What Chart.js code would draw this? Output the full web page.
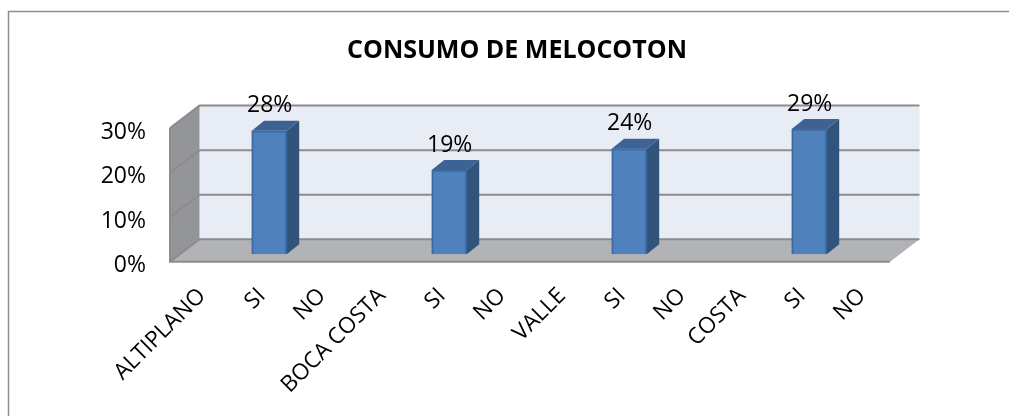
<!DOCTYPE html>
<html>
<head>
<meta charset="utf-8">
<style>
  html, body { margin: 0; padding: 0; background: #fff; }
  #wrap { width: 1009px; height: 416px; }
</style>
<script src="https://cdn.jsdelivr.net/npm/chart.js@4"></script>
</head>
<body>
<div id="wrap"><canvas id="chart" width="1009" height="416"></canvas></div>
<script>
const categories = ['ALTIPLANO', 'SI', 'NO', 'BOCA COSTA', 'SI', 'NO', 'VALLE', 'SI', 'NO', 'COSTA', 'SI', 'NO'];
const consumo = [null, 27.7, null, null, 18.9, null, null, 23.7, null, null, 28.1, null];
const consumoLabels = [null, '28%', null, null, '19%', null, null, '24%', null, null, '29%', null];
const yTicks = [0, 10, 20, 30];
const titleText = 'CONSUMO DE MELOCOTON';

const FONT = '"Open Sans", sans-serif';

// fake 3d box, depth of the walls and of the bars
const wallDx = 29.5, wallDy = 22.4;
const barShiftX = 9.2, barShiftY = 7.4;
const barDx = 12.5, barDy = 10;

function poly(ctx, pts, fill) {
    ctx.beginPath();
    pts.forEach((p, i) => i ? ctx.lineTo(p[0], p[1]) : ctx.moveTo(p[0], p[1]));
    ctx.closePath();
    ctx.fillStyle = fill;
    ctx.fill();
}

const box3d = {
    id: 'box3d',
    afterLayout(chart) {
        // title is centred a bit right of the padded width
        chart.titleBlock.left += 27;
        chart.titleBlock.right += 27;
    },
    beforeDraw(chart) {
        const ctx = chart.ctx;
        ctx.save();
        ctx.strokeStyle = '#8e8e8e';
        ctx.lineWidth = 1.5;
        ctx.beginPath();
        ctx.moveTo(8.5, 416);
        ctx.lineTo(8.5, 11.5);
        ctx.lineTo(1009, 11.5);
        ctx.stroke();
        ctx.restore();
    },
    beforeDatasetsDraw(chart) {
        const ctx = chart.ctx, a = chart.chartArea, y = chart.scales.y;
        const l = a.left, r = a.right, t = a.top, b = a.bottom;

        ctx.save();
        poly(ctx, [[l + wallDx, t - wallDy], [r + wallDx, t - wallDy], [r + wallDx, b - wallDy], [l + wallDx, b - wallDy]], '#e8ecf5');
        poly(ctx, [[l, t], [l + wallDx, t - wallDy], [l + wallDx, b - wallDy], [l, b]], '#939598');
        poly(ctx, [[l, b], [l + wallDx, b - wallDy], [r + wallDx, b - wallDy], [r, b]], '#b1b3b6');

        ctx.strokeStyle = '#8c8c8c';
        ctx.lineWidth = 2;
        yTicks.forEach(v => {
            const py = y.getPixelForValue(v);
            ctx.beginPath();
            ctx.moveTo(l, py);
            ctx.lineTo(l + wallDx, py - wallDy);
            ctx.lineTo(r + wallDx, py - wallDy);
            ctx.stroke();
        });
        // front edges of the box
        ctx.beginPath();
        ctx.moveTo(l, t);
        ctx.lineTo(l, b);
        ctx.lineTo(r, b);
        ctx.stroke();
        ctx.restore();

        // bars sit inside the floor, not on the front edge
        ctx.save();
        ctx.translate(barShiftX, -barShiftY);
        chart.getDatasetMeta(0).data.forEach((bar, i) => {
            if (consumo[i] == null) return;
            const hw = bar.width / 2;
            const x0 = bar.x - hw, x1 = bar.x + hw;
            poly(ctx, [[x1, bar.y], [x1 + barDx, bar.y - barDy], [x1 + barDx, bar.base - barDy], [x1, bar.base]], '#31537c');
            poly(ctx, [[x0, bar.y], [x0 + barDx, bar.y - barDy], [x1 + barDx, bar.y - barDy], [x1, bar.y]], '#3c6393');
        });
        ctx.restore();

        ctx.save();
        ctx.translate(barShiftX, -barShiftY);
    },
    afterDatasetsDraw(chart) {
        const ctx = chart.ctx;
        ctx.restore();

        ctx.save();
        ctx.font = '23px ' + FONT;
        ctx.fillStyle = '#000';
        ctx.textAlign = 'center';
        ctx.textBaseline = 'alphabetic';
        chart.getDatasetMeta(0).data.forEach((bar, i) => {
            if (consumo[i] == null) return;
            ctx.fillText(consumoLabels[i], bar.x + barShiftX + 0.5, bar.y - barShiftY - 18.5);
        });
        ctx.restore();
    }
};

new Chart(document.getElementById('chart'), {
    type: 'bar',
    data: {
        labels: categories,
        datasets: [{
            data: consumo,
            backgroundColor: '#4f81bd',
            borderColor: '#3f6a9f',
            borderWidth: 2,
            barThickness: 35
        }]
    },
    options: {
        responsive: false,
        animation: false,
        events: [],
        layout: { padding: { left: 90, right: 119, top: 0, bottom: 0 } },
        plugins: {
            legend: { display: false },
            tooltip: { enabled: false },
            title: {
                display: true,
                text: titleText,
                color: '#000',
                font: { family: FONT, size: 25, weight: 'bold' },
                padding: { top: 35.5, bottom: 62.5 }
            }
        },
        scales: {
            x: {
                grid: { display: false, drawTicks: false },
                border: { display: false },
                afterFit(s) { s.height = 154.3; },
                ticks: {
                    autoSkip: false,
                    minRotation: 45,
                    maxRotation: 45,
                    padding: 21,
                    labelOffset: 2,
                    color: '#000',
                    font: { family: FONT, size: 22.5 }
                }
            },
            y: {
                min: 0,
                max: 30,
                afterFit(s) { s.width = 80; },
                afterBuildTicks(s) { s.ticks = yTicks.map(v => ({ value: v })); },
                grid: { display: false, drawTicks: false },
                border: { display: false },
                ticks: {
                    padding: 24,
                    labelOffset: 4,
                    color: '#000',
                    font: { family: FONT, size: 23 },
                    callback: v => v + '%'
                }
            }
        }
    },
    plugins: [box3d]
});
</script>
</body>
</html>
